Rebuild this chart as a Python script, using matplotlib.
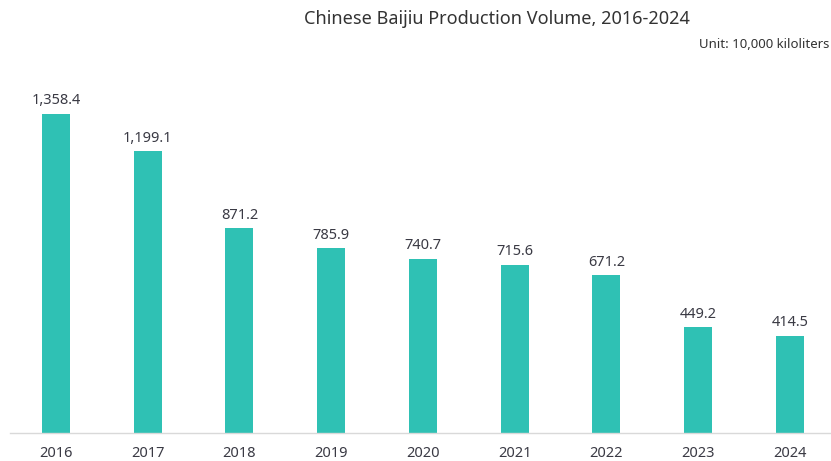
import matplotlib
matplotlib.use("Agg")
import matplotlib.pyplot as plt

years = ["2016", "2017", "2018", "2019", "2020", "2021", "2022", "2023", "2024"]
volume = [1358.4, 1199.1, 871.2, 785.9, 740.7, 715.6, 671.2, 449.2, 414.5]

bar_color = "#2fc1b4"
text_color = "#3a3a44"

plt.rcParams['font.family'] = ['Noto Sans', 'DejaVu Sans']

fig = plt.figure(figsize=(8.31, 4.61), dpi=100)
ax = fig.add_axes([10/831, 1 - 433/461, 821/831, (433 - 60)/461])

x = list(range(len(years)))
ax.bar(x, volume, width=0.305, color=bar_color, zorder=2)

# value labels above each bar
for i, v in enumerate(volume):
    ax.annotate(f"{v:,.1f}", (i, v), xytext=(0, 4), textcoords="offset points",
                ha="center", va="bottom", fontsize=10.5, color=text_color)

ax.set_xlim(-0.501, 8.447)
ax.set_ylim(0, 1588)
ax.set_xticks(x)
ax.set_xticklabels(years, fontsize=10.5, color=text_color)
ax.tick_params(axis="x", length=0, pad=9)
ax.set_yticks([])

for s in ["top", "right", "left"]:
    ax.spines[s].set_visible(False)
ax.spines["bottom"].set_color("#d9d9d9")
ax.spines["bottom"].set_linewidth(1)

fig.text(497/831, 1 - 19/461, "Chinese Baijiu Production Volume, 2016-2024",
         ha="center", va="center", fontsize=13, color="#333333")
fig.text(829/831, 1 - 44/461, "Unit: 10,000 kiloliters",
         ha="right", va="center", fontsize=9.5, color="#333333")

fig.savefig("out.png", dpi=100)
